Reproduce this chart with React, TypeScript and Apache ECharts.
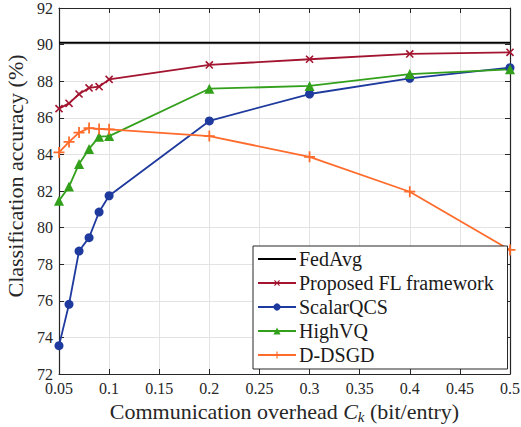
import React, { useEffect, useRef } from "react";
import * as echarts from "echarts";

const overhead = [0.05, 0.06, 0.07, 0.08, 0.09, 0.1, 0.2, 0.3, 0.4, 0.5];
const fedAvgLevel = 90.1;
const proposed = [86.5, 86.79, 87.3, 87.63, 87.7, 88.1, 88.89, 89.2, 89.49, 89.58];
const scalarQCS = [73.55, 75.81, 78.72, 79.45, 80.85, 81.74, 85.83, 87.3, 88.16, 88.74];
const highVQ = [81.47, 82.24, 83.48, 84.3, 84.97, 85.0, 87.59, 87.74, 88.39, 88.65];
const dDSGD = [84.11, 84.68, 85.19, 85.44, 85.39, 85.37, 85.0, 83.87, 81.96, 78.78];
const seriesNames = ["FedAvg", "Proposed FL framework", "ScalarQCS", "HighVQ", "D-DSGD"];

const FONT = "'Liberation Serif', 'DejaVu Serif', serif";
const AX = "#262626";
const PLUS = "path://M4.2,0H5.8V4.2H10V5.8H5.8V10H4.2V5.8H0V4.2H4.2Z";

const pair = (ys: number[]) => overhead.map((x, i) => [x, ys[i]]);

export default function App() {
  const ref = useRef<HTMLDivElement>(null);
  useEffect(() => {
    if (!ref.current) return;
    const chart = echarts.init(ref.current, null, { renderer: "svg" });
    const fmtX = (v: number) => String(+v.toFixed(2));
    chart.setOption({
      animation: false,
      backgroundColor: "#fff",
      textStyle: { fontFamily: FONT },
      grid: { left: 59, right: 11, top: 8, bottom: 53, show: false, containLabel: false, outerBoundsMode: "none" },
      legend: {
        orient: "vertical",
        left: 253,
        top: 246,
        padding: [3, 13, 4, 4],
        itemGap: 4,
        itemWidth: 38,
        itemHeight: 9,
        backgroundColor: "#fff",
        borderColor: AX,
        borderWidth: 1,
        borderRadius: 0,
        data: seriesNames.map((n, i) => (i === 0 ? { name: n, icon: "path://M0,0H40V2.2H0Z" } : { name: n })),
        textStyle: { fontFamily: FONT, fontSize: 20, lineHeight: 19, color: "#1a1a1a", padding: [0, 0, 0, -2] },
      },
      xAxis: [
        {
          type: "value",
          min: 0.05,
          max: 0.5,
          interval: 0.05,
          position: "bottom",
          axisLine: { show: true, lineStyle: { color: AX, width: 1.2 } },
          axisTick: { show: true, inside: true, length: 5, lineStyle: { color: AX } },
          axisLabel: { fontFamily: FONT, fontSize: 16, color: AX, margin: 6, formatter: fmtX },
          splitLine: { show: true, lineStyle: { color: "#e3e3e3", width: 1 } },
          name: "{t|Communication overhead }{i|C}{s|k}{t| (bit/entry)}",
          nameLocation: "middle",
          nameGap: 23,
          nameTextStyle: {
            fontFamily: FONT,
            rich: {
              t: { fontFamily: FONT, fontSize: 22, color: AX },
              i: { fontFamily: FONT, fontSize: 22, color: AX, fontStyle: "italic" },
              s: { fontFamily: FONT, fontSize: 15, color: AX, fontStyle: "italic", padding: [10, 0, 0, 0] },
            },
          },
        },
        {
          type: "value",
          min: 0.05,
          max: 0.5,
          interval: 0.05,
          position: "top",
          axisLine: { show: true, lineStyle: { color: AX, width: 1.2 } },
          axisTick: { show: true, inside: true, length: 5, lineStyle: { color: AX } },
          axisLabel: { show: false },
          splitLine: { show: false },
        },
      ],
      yAxis: [
        {
          type: "value",
          min: 72,
          max: 92,
          interval: 2,
          position: "left",
          axisLine: { show: true, lineStyle: { color: AX, width: 1.2 } },
          axisTick: { show: true, inside: true, length: 5, lineStyle: { color: AX } },
          axisLabel: { fontFamily: FONT, fontSize: 16, color: AX, margin: 6 },
          splitLine: { show: true, lineStyle: { color: "#e3e3e3", width: 1 } },
          name: "Classification accuracy (%)",
          nameLocation: "middle",
          nameGap: 28,
          nameTextStyle: { fontFamily: FONT, fontSize: 22, color: AX, padding: [0, 0, 0, 30] },
        },
        {
          type: "value",
          min: 72,
          max: 92,
          interval: 2,
          position: "right",
          axisLine: { show: true, lineStyle: { color: AX, width: 1.2 } },
          axisTick: { show: true, inside: true, length: 5, lineStyle: { color: AX } },
          axisLabel: { show: false },
          splitLine: { show: false },
        },
      ],
      series: [
        {
          name: "FedAvg",
          type: "line",
          data: [
            [overhead[0], fedAvgLevel],
            [overhead[overhead.length - 1], fedAvgLevel],
          ],
          symbol: "none",
          lineStyle: { color: "#000", width: 2 },
          itemStyle: { color: "#000" },
        },
        {
          name: "Proposed FL framework",
          type: "line",
          data: pair(proposed),
          symbol: PLUS,
          symbolRotate: 45,
          symbolSize: 10,
          lineStyle: { color: "#A2142F", width: 1.8 },
          itemStyle: { color: "#A2142F" },
        },
        {
          name: "ScalarQCS",
          type: "line",
          data: pair(scalarQCS),
          symbol: "circle",
          symbolSize: 9,
          lineStyle: { color: "#1F3A9E", width: 1.8 },
          itemStyle: { color: "#1F3A9E" },
        },
        {
          name: "HighVQ",
          type: "line",
          data: pair(highVQ),
          symbol: "triangle",
          symbolSize: 10,
          lineStyle: { color: "#33A01C", width: 1.8 },
          itemStyle: { color: "#33A01C" },
        },
        {
          name: "D-DSGD",
          type: "line",
          data: pair(dDSGD),
          symbol: PLUS,
          symbolSize: 11,
          lineStyle: { color: "#FF6B2B", width: 1.8 },
          itemStyle: { color: "#FF6B2B" },
        },
      ],
    });
    return () => chart.dispose();
  }, []);
  return <div ref={ref} style={{ width: 521, height: 427, position: "absolute", left: 0, top: 0 }} />;
}
